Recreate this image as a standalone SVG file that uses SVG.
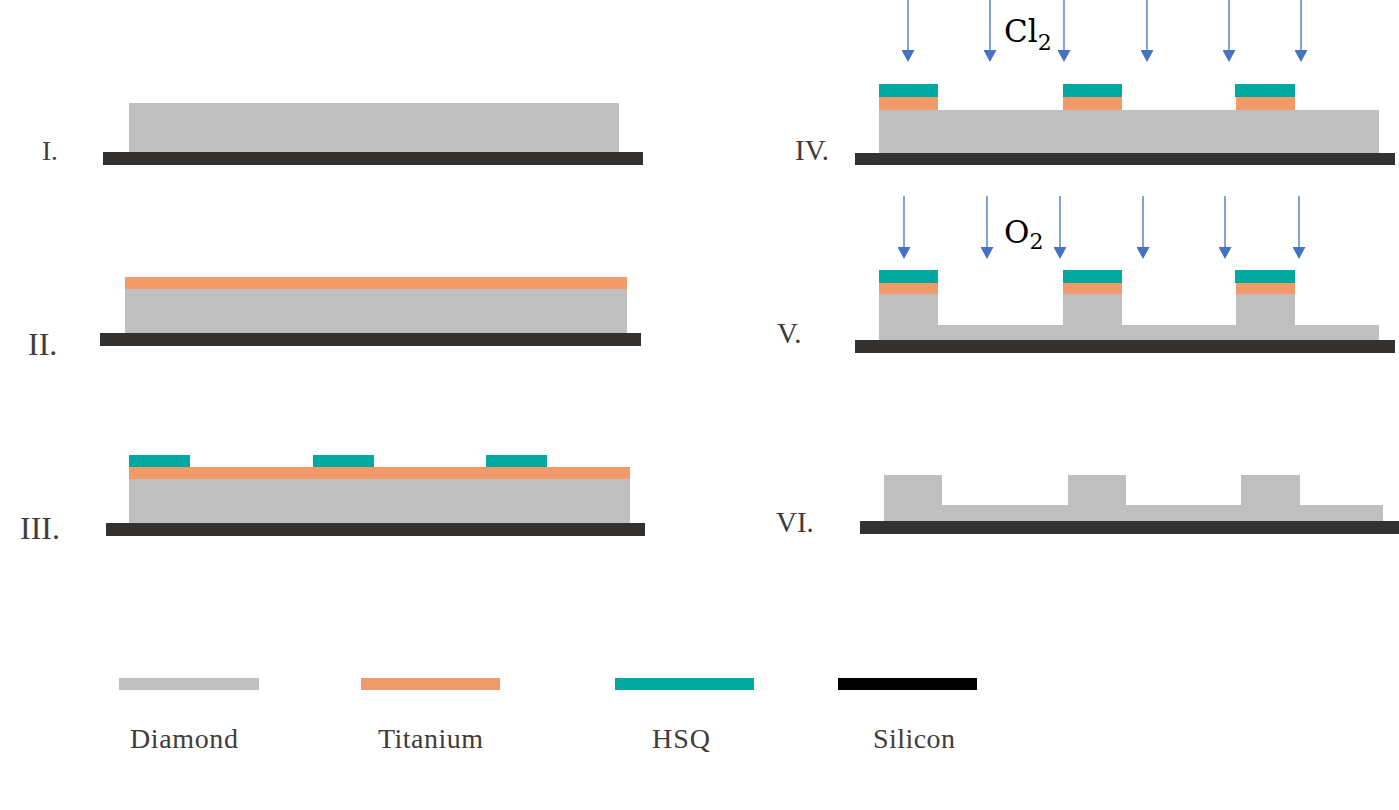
<svg xmlns="http://www.w3.org/2000/svg" width="1399" height="810" viewBox="0 0 1399 810">
<defs>
<style>
.dia{fill:#bfbfbf}
.ti{fill:#f39a6b}
.hsq{fill:#00a99f}
.si{fill:#333230}
.lbl{font-family:"Liberation Serif",serif;fill:#403c3b}
.gas{font-family:"DejaVu Serif","Liberation Serif",serif;fill:#000}
.arr{stroke:#4472c4;stroke-width:1.3;fill:none}
</style>
<marker id="ah" markerUnits="userSpaceOnUse" markerWidth="12" markerHeight="13" refX="0" refY="6.5" orient="auto" viewBox="0 0 12 13">
<path d="M0,0 L12,6.5 L0,13 Z" fill="#4472c4"/>
</marker>
</defs>
<rect width="1399" height="810" fill="#fff"/>

<g id="panel-I">
<rect class="dia" x="129" y="103" width="490" height="49"/>
<rect class="si" x="103" y="152" width="540" height="13"/>
<text class="lbl" x="42" y="160" font-size="27">I.</text>
</g>

<g id="panel-II">
<rect class="ti" x="125" y="277" width="502" height="12"/>
<rect class="dia" x="125" y="289" width="502" height="44"/>
<rect class="si" x="100" y="333" width="541" height="13"/>
<text class="lbl" x="28" y="355" font-size="32">II.</text>
</g>

<g id="panel-III">
<rect class="hsq" x="129" y="455" width="61" height="12"/>
<rect class="hsq" x="313" y="455" width="61" height="12"/>
<rect class="hsq" x="486" y="455" width="61" height="12"/>
<rect class="ti" x="129" y="467" width="501" height="12"/>
<rect class="dia" x="129" y="479" width="501" height="44"/>
<rect class="si" x="106" y="523" width="539" height="13"/>
<text class="lbl" x="20" y="539" font-size="32">III.</text>
</g>

<g id="panel-IV">
<rect class="hsq" x="879" y="84" width="59" height="13"/>
<rect class="hsq" x="1063" y="84" width="59" height="13"/>
<rect class="hsq" x="1235" y="84" width="60" height="13"/>
<rect class="ti" x="879" y="97" width="59" height="13"/>
<rect class="ti" x="1063" y="97" width="59" height="13"/>
<rect class="ti" x="1236" y="97" width="59" height="13"/>
<rect class="dia" x="879" y="110" width="500" height="43"/>
<rect class="si" x="855" y="153" width="540" height="12"/>
<text class="lbl" x="795" y="160" font-size="29">IV.</text>
<text class="gas" x="1004" y="42" font-size="31">Cl<tspan font-size="22" dy="8">2</tspan></text>
</g>

<g id="panel-V">
<rect class="hsq" x="879" y="270" width="59" height="13"/>
<rect class="hsq" x="1063" y="270" width="59" height="13"/>
<rect class="hsq" x="1235" y="270" width="60" height="13"/>
<rect class="ti" x="879" y="283" width="59" height="11"/>
<rect class="ti" x="1063" y="283" width="59" height="11"/>
<rect class="ti" x="1236" y="283" width="59" height="11"/>
<rect class="dia" x="879" y="294" width="59" height="32"/>
<rect class="dia" x="1063" y="294" width="59" height="32"/>
<rect class="dia" x="1236" y="294" width="59" height="32"/>
<rect class="dia" x="879" y="325" width="500" height="15"/>
<rect class="si" x="855" y="340" width="540" height="13"/>
<text class="lbl" x="777" y="343" font-size="29">V.</text>
<text class="gas" x="1004" y="243" font-size="31">O<tspan font-size="22" dy="6">2</tspan></text>
</g>

<g id="panel-VI">
<rect class="dia" x="884" y="475" width="58" height="31"/>
<rect class="dia" x="1068" y="475" width="58" height="31"/>
<rect class="dia" x="1241" y="475" width="59" height="31"/>
<rect class="dia" x="884" y="505" width="499" height="16"/>
<rect class="si" x="860" y="521" width="539" height="13"/>
<text class="lbl" x="776" y="532" font-size="29">VI.</text>
</g>

<g id="connectors">
<line class="arr" x1="908" y1="0" x2="908" y2="50" marker-end="url(#ah)"/>
<line class="arr" x1="990" y1="0" x2="990" y2="50" marker-end="url(#ah)"/>
<line class="arr" x1="1064" y1="0" x2="1064" y2="50" marker-end="url(#ah)"/>
<line class="arr" x1="1147" y1="0" x2="1147" y2="50" marker-end="url(#ah)"/>
<line class="arr" x1="1229" y1="0" x2="1229" y2="50" marker-end="url(#ah)"/>
<line class="arr" x1="1301" y1="0" x2="1301" y2="50" marker-end="url(#ah)"/>
<line class="arr" x1="904" y1="196" x2="904" y2="247" marker-end="url(#ah)"/>
<line class="arr" x1="987" y1="196" x2="987" y2="247" marker-end="url(#ah)"/>
<line class="arr" x1="1060" y1="196" x2="1060" y2="247" marker-end="url(#ah)"/>
<line class="arr" x1="1143" y1="196" x2="1143" y2="247" marker-end="url(#ah)"/>
<line class="arr" x1="1225" y1="196" x2="1225" y2="247" marker-end="url(#ah)"/>
<line class="arr" x1="1299" y1="196" x2="1299" y2="247" marker-end="url(#ah)"/>
</g>

<g id="legend">
<rect class="dia" x="119" y="678" width="140" height="12"/>
<rect class="ti" x="361" y="678" width="139" height="12"/>
<rect class="hsq" x="615" y="678" width="139" height="12"/>
<rect x="838" y="678" width="139" height="12" fill="#000"/>
<text class="lbl" x="130" y="748" font-size="28" textLength="108">Diamond</text>
<text class="lbl" x="378" y="748" font-size="28" textLength="105">Titanium</text>
<text class="lbl" x="652" y="748" font-size="28" textLength="58">HSQ</text>
<text class="lbl" x="873" y="748" font-size="28" textLength="82">Silicon</text>
</g>
</svg>
